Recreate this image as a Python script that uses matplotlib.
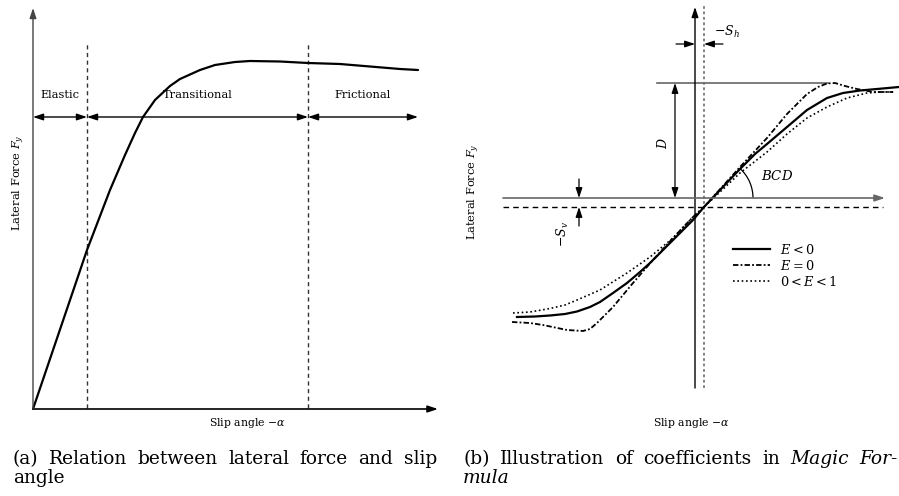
import matplotlib
matplotlib.use("Agg")
import matplotlib.pyplot as plt
from matplotlib.patches import Arc
from matplotlib.lines import Line2D

plt.rcParams['font.family'] = ['DejaVu Serif']
plt.rcParams['mathtext.fontset'] = 'dejavuserif'

W, H = 899, 496

# (a) lateral force against slip angle
slip_a = [0, 54, 77, 92, 102, 110, 122, 137, 147, 167, 182, 202, 217, 247, 275, 307, 337, 367, 385]
force_a = [0, 159, 219, 254, 276, 292, 309, 323, 330, 339, 344, 347, 348, 347.5, 346, 345, 342.5, 340, 339]
region_edges = [0, 54, 275, 385]
region_names = ['Elastic', 'Transitional', 'Frictional']
region_level = 292

# (b) magic formula curves for three values of E
slip_neg_e = [-178, -160, -145, -130, -118, -105, -95, -82, -68, -55, -45, -22, -2, 9, 25, 45, 60, 72, 92, 112, 132, 148, 165, 182, 204]
force_neg_e = [-119, -118.5, -117.5, -116, -113.5, -109, -104, -95, -85, -74, -65, -42, -22, -9, 8, 29, 44, 54, 71, 88, 100, 105, 107.5, 109, 111]
slip_zero_e = [-183, -165, -152, -140, -128, -112, -105, -98, -90, -82, -62, -42, -22, -2, 9, 45, 72, 92, 112, 123, 132, 140, 150, 162, 178, 198]
force_zero_e = [-124, -125, -127, -129.5, -132, -133, -131, -125, -117, -109, -85, -62, -40, -19, -9, 31, 60, 84, 104, 111, 114.5, 115, 112, 109, 106, 106]
slip_pos_e = [-182, -165, -145, -130, -118, -95, -68, -45, -22, -2, 9, 25, 45, 72, 92, 112, 132, 152, 172, 185, 200]
force_pos_e = [-115, -114, -110.5, -107, -102, -92, -75, -59, -40, -19, -9, 6, 25, 46, 64, 80, 91, 100, 105, 106, 106]
curve_labels = ['$E<0$', '$E=0$', '$0<E<1$']

shift_h = 9
shift_v = -9
peak_d = 115

fig = plt.figure(figsize=(W / 100, H / 100), dpi=100)


def px(x, y):
    return x / W, 1 - y / H


head = '-|>,head_length=0.6,head_width=0.2'
dhead = '<|-|>,head_length=0.6,head_width=0.2'


def arrow(ax, start, end, style=head, color='k', lw=1.0):
    ax.annotate('', xy=end, xytext=start,
                arrowprops=dict(arrowstyle=style, color=color, lw=lw,
                                shrinkA=0, shrinkB=0, mutation_scale=10))


# ---- panel (a) ----
ax_a = fig.add_axes([0, 0, 450 / W, 1])
ax_a.set_xlim(-33, 417)
ax_a.set_ylim(409 - H, 409)
ax_a.set_axis_off()

arrow(ax_a, (0, 0), (405, 0), lw=1.2)
arrow(ax_a, (0, 0), (0, 401), color='#444444')
for xe in region_edges[1:3]:
    ax_a.plot([xe, xe], [1, 366], color='#333333', lw=1.0, ls=(0, (3, 2.5)))
for i, name in enumerate(region_names):
    arrow(ax_a, (region_edges[i], region_level), (region_edges[i + 1], region_level), style=dhead)
    ax_a.text((region_edges[i] + region_edges[i + 1]) / 2, region_level + 22, name,
              ha='center', va='center', fontsize=8.2)
ax_a.plot(slip_a, force_a, color='k', lw=1.6, solid_capstyle='round')

fig.text(*px(247, 423), r'Slip angle $-\alpha$', ha='center', va='center', fontsize=7.8)
fig.text(*px(19, 183), r'Lateral Force $F_y$', ha='center', va='center', fontsize=8.2, rotation=90)

# ---- panel (b) ----
ax_b = fig.add_axes([450 / W, 0, 449 / W, 1])
ax_b.set_xlim(450 - 695, W - 695)
ax_b.set_ylim(198 - H, 198)
ax_b.set_axis_off()

arrow(ax_b, (0, -190), (0, 191))
ax_b.plot([shift_h, shift_h], [-190, 193], color='#777777', lw=1.3, ls=(0, (1.5, 1.5)))
arrow(ax_b, (-192, 0), (190, 0), color='#666666', lw=1.2)
ax_b.plot([-192, 188], [shift_v, shift_v], color='k', lw=1.0, ls=(0, (4, 3)))
ax_b.plot([-38, 133], [peak_d, peak_d], color='#666666', lw=1.2)

# peak value D
arrow(ax_b, (-20, 0), (-20, peak_d), style=dhead, lw=0.9)
ax_b.text(-32, 55, '$D$', rotation=90, ha='center', va='center', fontsize=9)

# vertical shift
arrow(ax_b, (-116, 19), (-116, 0), lw=0.9)
arrow(ax_b, (-116, shift_v - 19), (-116, shift_v), lw=0.9)
ax_b.text(-132, -36, '$-S_v$', rotation=90, ha='center', va='center', fontsize=9)

# horizontal shift
arrow(ax_b, (-19, 154), (0, 154), lw=0.9)
arrow(ax_b, (28, 154), (shift_h, 154), lw=0.9)
ax_b.text(19, 166, '$-S_h$', ha='left', va='center', fontsize=9)

# stiffness angle BCD
ax_b.add_patch(Arc((18, 0), 80, 80, theta1=0, theta2=47, color='k', lw=0.9))
ax_b.text(66, 22, '$BCD$', ha='left', va='center', fontsize=9.5)

ax_b.plot(slip_neg_e, force_neg_e, color='k', lw=1.6)
ax_b.plot(slip_zero_e, force_zero_e, color='k', lw=1.3, ls=(0, (3, 1.2, 1, 1.2)))
ax_b.plot(slip_pos_e, force_pos_e, color='k', lw=1.2, ls=(0, (1, 1.6)))

handles = [Line2D([], [], color='k', lw=1.6),
           Line2D([], [], color='k', lw=1.3, ls=(0, (3, 1.2, 1, 1.2))),
           Line2D([], [], color='k', lw=1.2, ls=(0, (1, 1.6)))]
fig.legend(handles, curve_labels, loc='upper left', bbox_to_anchor=px(733, 243),
           frameon=False, fontsize=9.3, handlelength=2.9, handletextpad=0.75,
           labelspacing=0.14, borderpad=0, borderaxespad=0)

fig.text(*px(691, 423), r'Slip angle $-\alpha$', ha='center', va='center', fontsize=7.8)
fig.text(*px(474, 192), r'Lateral Force $F_y$', ha='center', va='center', fontsize=8.2, rotation=90)

# ---- captions, first line justified ----
renderer = fig.canvas.get_renderer()


def justified(words, x0, x1, y, size):
    texts = [fig.text(0, 0, w, fontsize=size, style=st, va='baseline') for w, st in words]
    widths = [t.get_window_extent(renderer).width for t in texts]
    gap = (x1 - x0 - sum(widths)) / (len(words) - 1)
    x = x0
    for t, w in zip(texts, widths):
        t.set_position(px(x, y))
        x += w + gap


cap_size = 13.4
justified([(w, 'normal') for w in '(a) Relation between lateral force and slip'.split()],
          13, 437, 464, cap_size)
fig.text(*px(13, 483), 'angle', fontsize=cap_size, va='baseline')
justified([(w, 'normal') for w in '(b) Illustration of coefficients in'.split()]
          + [('Magic', 'italic'), ('For-', 'italic')],
          463, 898, 464, cap_size)
fig.text(*px(463, 483), 'mula', fontsize=cap_size, style='italic', va='baseline')

fig.savefig('out.png', dpi=100)
